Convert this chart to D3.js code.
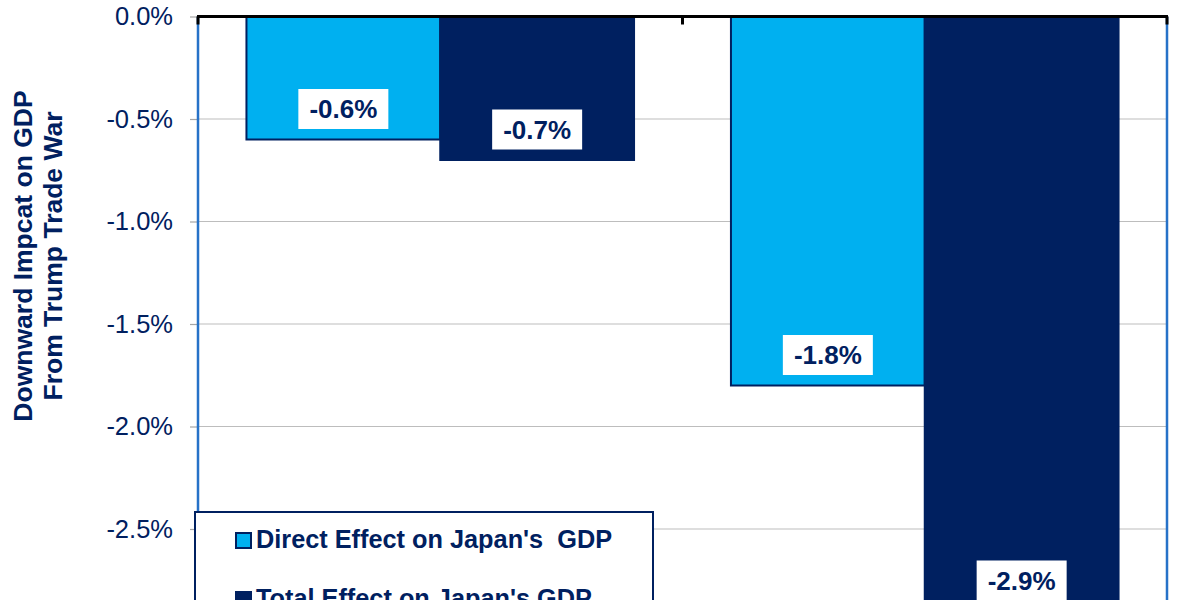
<!DOCTYPE html>
<html>
<head>
<meta charset="utf-8">
<script src="https://cdn.jsdelivr.net/npm/d3@7"></script>
<style>
  body { margin: 0; background: #fff; }
  text { font-family: "Liberation Sans", Arial, sans-serif; }
</style>
</head>
<body>
<div id="chart"></div>
<script>
// data
const categories = ["Scenario 1", "Scenario 2"];
const seriesNames = ["Direct Effect on Japan's  GDP", "Total Effect on Japan's GDP"];
const directEffect = [-0.6, -1.8];
const totalEffect = [-0.7, -2.9];
const yTicks = [0, -0.5, -1.0, -1.5, -2.0, -2.5];

const navy = "#002060", light = "#00B0F0";
const colors = [light, navy];

var svg = d3.select("#chart").append("svg")
    .attr("width", 1200)
    .attr("height", 600);

const plotLeft = 198, plotRight = 1167, plotTop = 16.5;

const y = d3.scaleLinear().domain([0, -3]).range([plotTop, plotTop + 615]);
const x0 = d3.scaleBand().domain(categories).range([plotLeft, plotRight]);
const x1 = d3.scaleBand().domain(seriesNames).range([0, x0.bandwidth()]).paddingOuter(0.25);

const rows = categories.map((c, i) => ({cat: c, vals: [directEffect[i], totalEffect[i]]}));

// gridlines
svg.append("g").selectAll("line")
    .data(yTicks.slice(1))
    .enter().append("line")
    .attr("x1", plotLeft).attr("x2", plotRight)
    .attr("y1", d => y(d)).attr("y2", d => y(d))
    .attr("stroke", "#BDBDBD").attr("stroke-width", 1.2);

// y axis ticks + labels
const yAxis = svg.append("g")
    .attr("transform", `translate(${plotLeft},0)`)
    .call(d3.axisLeft(y).tickValues(yTicks).tickSize(8).tickPadding(17)
        .tickFormat(d => (d === 0 ? 0 : d).toFixed(1) + "%"));
yAxis.select(".domain").remove();
yAxis.selectAll("line").attr("stroke", "#A6A6A6").attr("stroke-width", 1.2);
yAxis.selectAll("text")
    .style("font-size", "25.5px")
    .attr("fill", navy);

// bars
const groups = svg.append("g").selectAll("g")
    .data(rows)
    .enter().append("g")
    .attr("transform", d => `translate(${x0(d.cat)},0)`);

groups.selectAll("rect")
    .data(d => d.vals.map((v, i) => ({name: seriesNames[i], v: v, i: i})))
    .enter().append("rect")
    .attr("x", d => x1(d.name))
    .attr("y", y(0))
    .attr("width", x1.bandwidth())
    .attr("height", d => y(d.v) - y(0))
    .attr("fill", d => colors[d.i])
    .attr("stroke", navy)
    .attr("stroke-width", 2);

// data labels
const labels = groups.selectAll("g.lab")
    .data(d => d.vals.map((v, i) => ({name: seriesNames[i], v: v})))
    .enter().append("g")
    .attr("class", "lab")
    .attr("transform", d => `translate(${x1(d.name) + x1.bandwidth() / 2},${y(d.v) - 30.5})`);

labels.append("rect")
    .attr("x", -45).attr("y", -20)
    .attr("width", 90).attr("height", 40)
    .attr("fill", "#fff");

labels.append("text")
    .attr("text-anchor", "middle")
    .attr("dy", "0.36em")
    .style("font-size", "26px")
    .style("font-weight", "bold")
    .attr("fill", navy)
    .text(d => d.v.toFixed(1) + "%");

// plot side borders (blue)
svg.append("line")
    .attr("x1", plotLeft).attr("x2", plotLeft).attr("y1", plotTop).attr("y2", 600)
    .attr("stroke", "#2672C8").attr("stroke-width", 2.5);
svg.append("line")
    .attr("x1", plotRight).attr("x2", plotRight).attr("y1", plotTop).attr("y2", 600)
    .attr("stroke", "#2672C8").attr("stroke-width", 2.5);

// category axis at zero
const xAxis = svg.append("g")
    .attr("transform", `translate(0,${y(0)})`);
xAxis.append("line")
    .attr("x1", plotLeft - 1).attr("x2", plotRight + 1)
    .attr("stroke", "#000").attr("stroke-width", 3);
xAxis.selectAll("line.tick")
    .data([plotLeft, x0(categories[1]), plotRight])
    .enter().append("line")
    .attr("class", "tick")
    .attr("x1", d => d).attr("x2", d => d)
    .attr("y1", 0).attr("y2", 8)
    .attr("stroke", "#000").attr("stroke-width", 3);

// y axis title
const titleLines = ["Downward Impcat on GDP", "From Trump Trade War"];
svg.append("g").selectAll("text")
    .data(titleLines)
    .enter().append("text")
    .attr("transform", (d, i) => `translate(${32 + i * 30},256) rotate(-90)`)
    .attr("text-anchor", "middle")
    .style("font-size", "26.5px")
    .style("font-weight", "bold")
    .attr("fill", navy)
    .text(d => d);

// legend
const legend = svg.append("g").attr("transform", "translate(195,512)");
legend.append("rect")
    .attr("width", 458).attr("height", 120)
    .attr("fill", "#fff")
    .attr("stroke", navy).attr("stroke-width", 2);

const items = legend.selectAll("g.item")
    .data(seriesNames)
    .enter().append("g")
    .attr("class", "item")
    .attr("transform", (d, i) => `translate(41,${36 + i * 59})`);

items.append("rect")
    .attr("x", 0).attr("y", -15)
    .attr("width", 15).attr("height", 15)
    .attr("fill", (d, i) => colors[i])
    .attr("stroke", navy).attr("stroke-width", 2);

items.append("text")
    .attr("x", 20)
    .style("font-size", "25.3px")
    .style("font-weight", "bold")
    .style("white-space", "pre")
    .attr("fill", navy)
    .text(d => d);
</script>
</body>
</html>
